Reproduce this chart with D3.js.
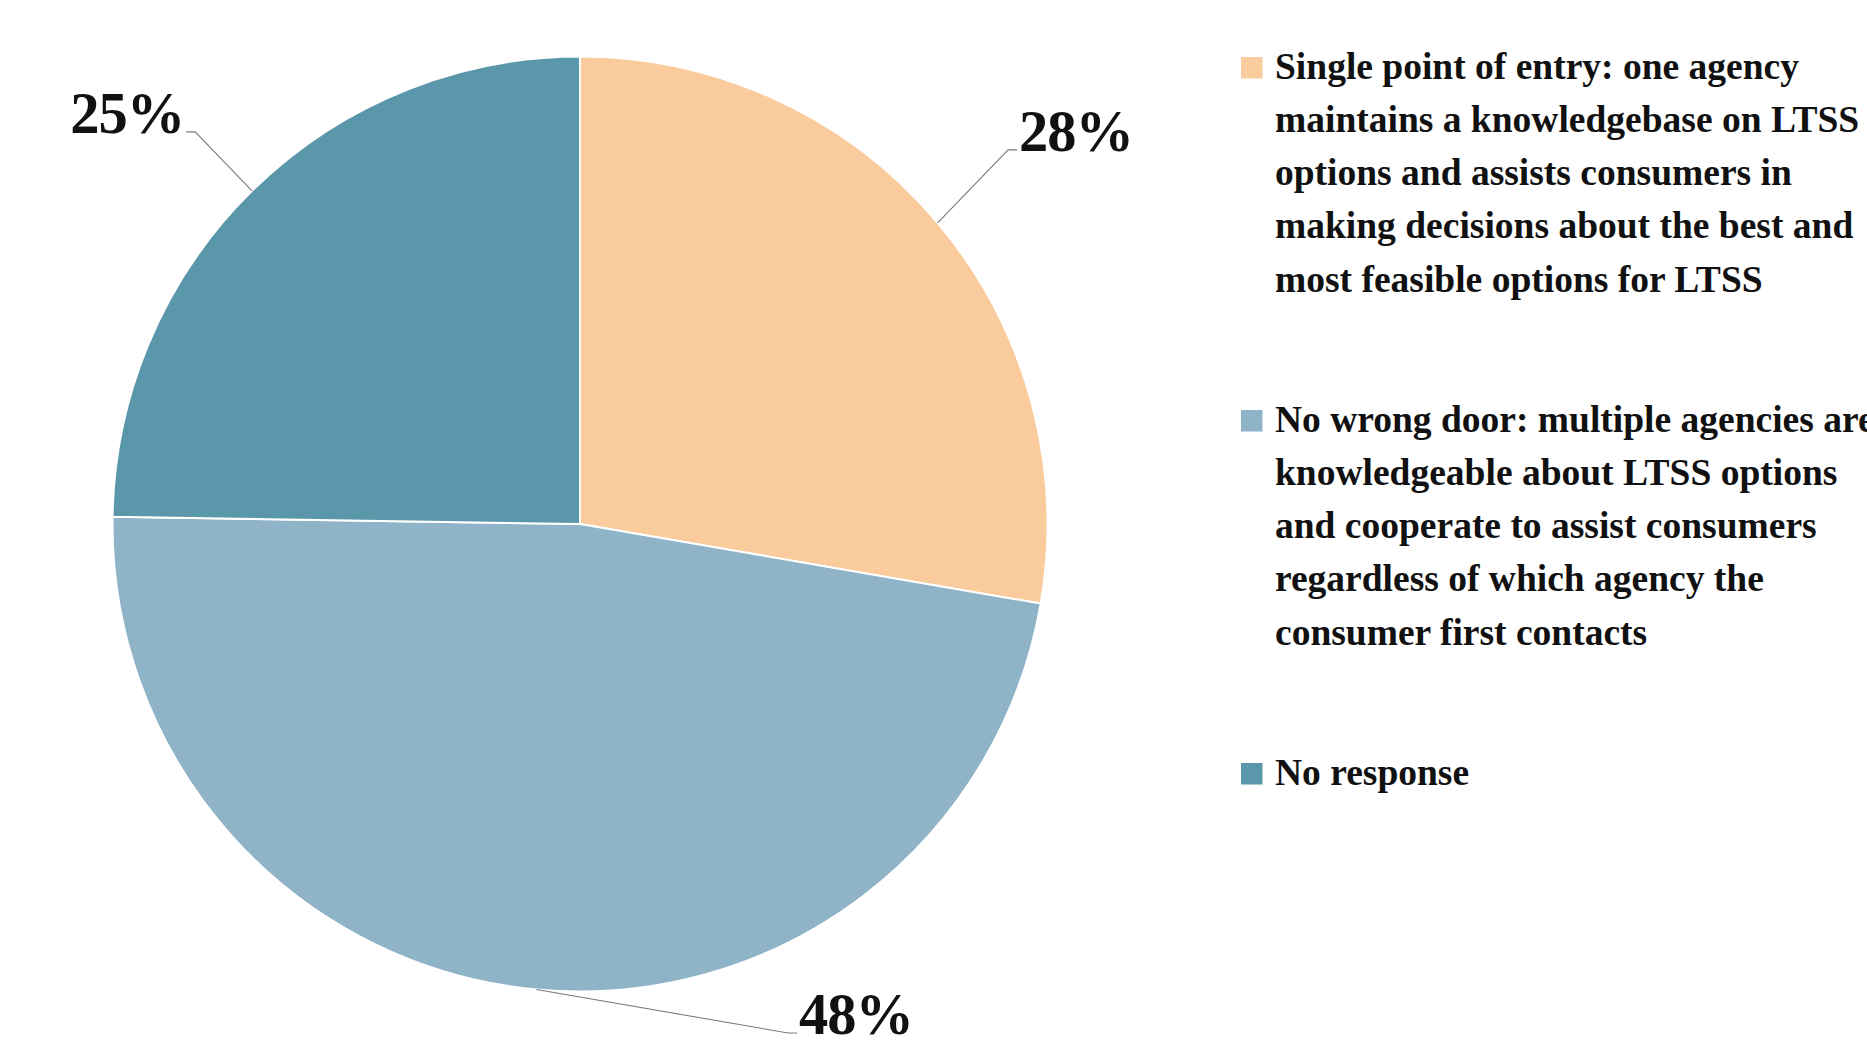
<!DOCTYPE html>
<html>
<head>
<meta charset="utf-8">
<script src="https://cdn.jsdelivr.net/npm/d3@7"></script>
<style>
  html, body { margin: 0; padding: 0; background: #ffffff; }
  svg { display: block; }
  text { font-family: "Liberation Serif", "Times New Roman", serif; font-weight: bold; fill: #111111; }
</style>
</head>
<body>
<svg id="chart" width="1867" height="1053"></svg>
<script>
// Survey responses: preferred model for LTSS information and assistance
const categories = [
  "Single point of entry",
  "No wrong door",
  "No response"
];
const values = [28, 48, 25];
const valueLabels = ["28%", "48%", "25%"];
const legendLines = [
  ["Single point of entry: one agency",
   "maintains a knowledgebase on LTSS",
   "options and assists consumers in",
   "making decisions about the best and",
   "most feasible options for LTSS"],
  ["No wrong door: multiple agencies are",
   "knowledgeable about LTSS options",
   "and cooperate to assist consumers",
   "regardless of which agency the",
   "consumer first contacts"],
  ["No response"]
];

// Presentation settings
const colors = ["#FACB9D", "#8FB3C7", "#5B97AA"];
const cx = 580, cy = 524, radius = 467.5;
// elbow offset of each leader line from the slice's outer midpoint, and tail direction
const leaderLayout = [
  { dx: 70.5, dy: -73, side: 1 },
  { dx: 251.6, dy: 43.5, side: 1 },
  { dx: -56.8, dy: -59, side: -1 }
];

const svg = d3.select("#chart");

const pie = d3.pie().sort(null).value(d => d);
const arcs = pie(values);

const arc = d3.arc().innerRadius(0).outerRadius(radius);
const edgeArc = d3.arc().innerRadius(radius).outerRadius(radius);

const g = svg.append("g").attr("transform", `translate(${cx},${cy})`);

g.selectAll("path.slice")
  .data(arcs)
  .join("path")
  .attr("class", "slice")
  .attr("d", arc)
  .attr("fill", (d, i) => colors[i])
  .attr("stroke", "#ffffff")
  .attr("stroke-width", 2)
  .attr("stroke-linejoin", "round");

// Leader lines and percentage labels
const tail = 9;
arcs.forEach((d, i) => {
  const [ex, ey] = edgeArc.centroid(d);
  const L = leaderLayout[i];
  const bx = ex + L.dx, by = ey + L.dy;
  const tx = bx + L.side * tail;
  g.append("polyline")
    .attr("points", [[ex, ey], [bx, by], [tx, by]].map(p => p.join(",")).join(" "))
    .attr("fill", "none")
    .attr("stroke", "#7a7a7a")
    .attr("stroke-width", 1.1);
  g.append("text")
    .attr("x", tx + L.side * 2)
    .attr("y", by + 1)
    .attr("text-anchor", L.side > 0 ? "start" : "end")
    .style("font-size", "58.5px")
    .style("letter-spacing", "-1px")
    .text(valueLabels[i]);
});

// Legend
const legend = svg.append("g").attr("transform", "translate(1241,0)");
const lineH = 53.3, itemGap = 86.5, squareSize = 21.5;
let baseline = 78.5;
categories.forEach((c, i) => {
  const item = legend.append("g").attr("class", "legend-item");
  item.append("rect")
    .attr("x", 0)
    .attr("y", baseline - squareSize)
    .attr("width", squareSize)
    .attr("height", squareSize)
    .attr("fill", colors[i]);
  const t = item.append("text")
    .attr("x", 34)
    .attr("y", baseline)
    .style("font-size", "37.5px");
  legendLines[i].forEach((ln, j) => {
    t.append("tspan")
      .attr("x", 34)
      .attr("y", baseline + j * lineH)
      .text(ln);
  });
  baseline += legendLines[i].length * lineH + itemGap;
});
</script>
</body>
</html>
